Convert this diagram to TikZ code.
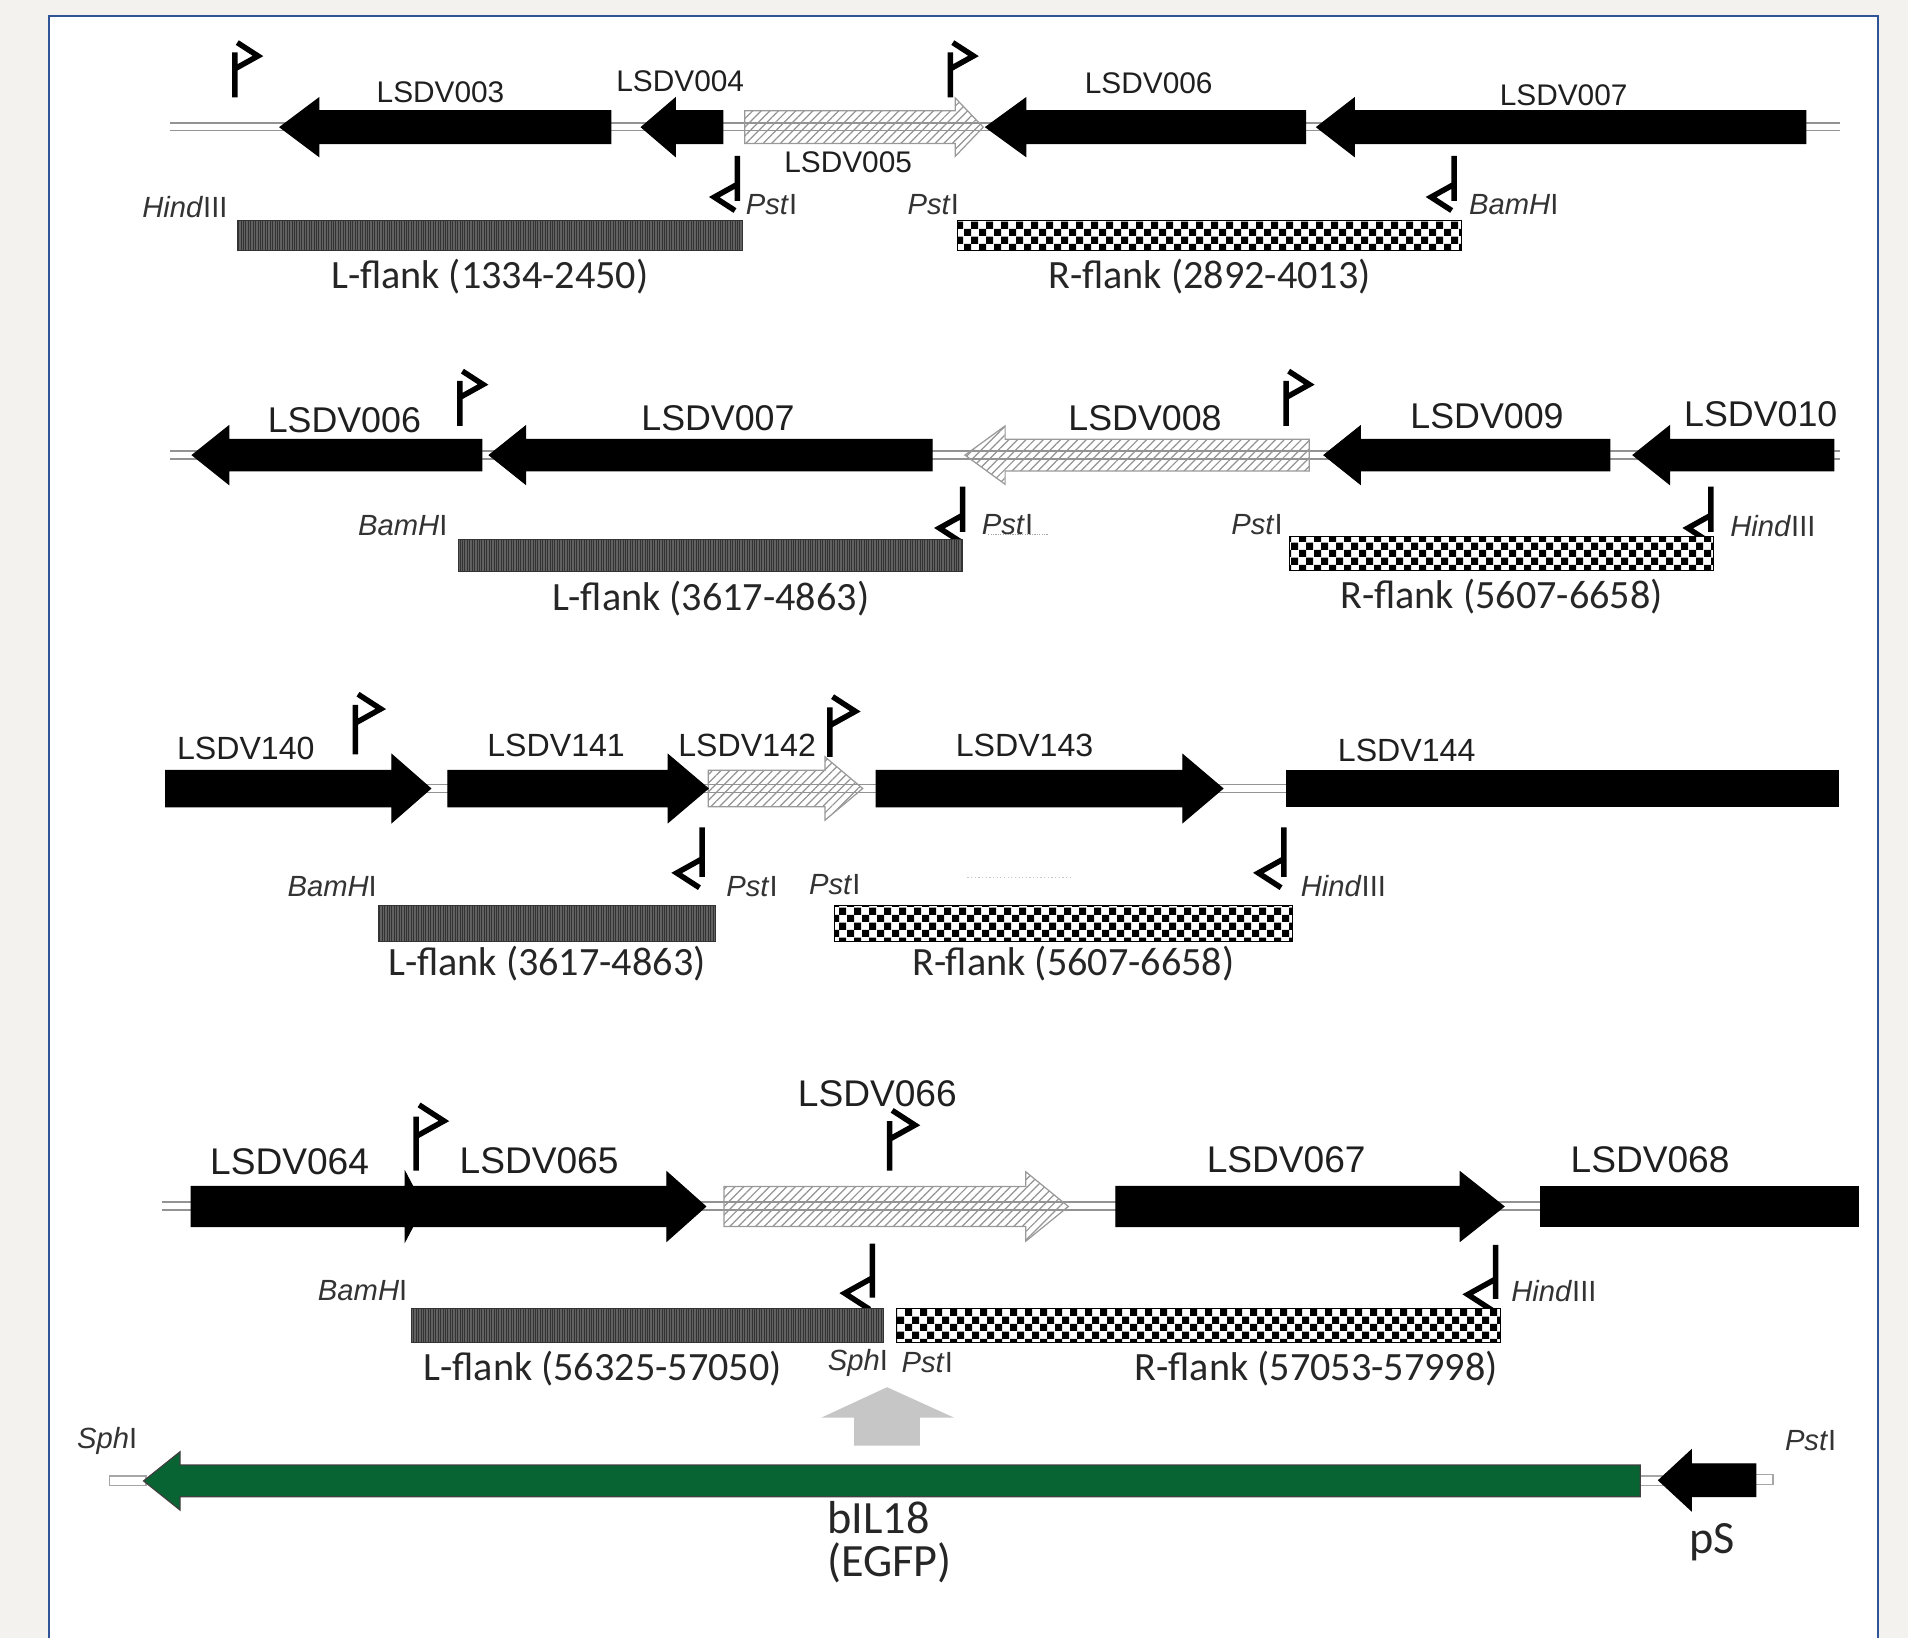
\documentclass[tikz,border=0pt]{standalone}
\usepackage{fontspec}
\setmainfont{Liberation Sans}
\newfontfamily\calib{Carlito}
\usetikzlibrary{positioning,patterns,patterns.meta}

\definecolor{pagebg}{RGB}{243,242,239}
\definecolor{frameblue}{RGB}{47,85,151}
\definecolor{egfp}{RGB}{8,100,50}

% coarse checkerboard for the right flanks
\pgfdeclarepatternformonly{bigcheck}{\pgfqpoint{0pt}{0pt}}{\pgfqpoint{12pt}{12pt}}{\pgfqpoint{12pt}{12pt}}%
{\pgfpathrectangle{\pgfqpoint{0pt}{0pt}}{\pgfqpoint{6pt}{6pt}}%
 \pgfpathrectangle{\pgfqpoint{6pt}{6pt}}{\pgfqpoint{6pt}{6pt}}%
 \pgfusepath{fill}}

% gene arrow: style, body end, head base, tip, centre line
\newcommand{\genebox}[5]{%
  \draw[#1] (#2,#5-\bodyh) -- (#3,#5-\bodyh) -- (#3,#5-\headh) -- (#4,#5)
    -- (#3,#5+\headh) -- (#3,#5+\bodyh) -- (#2,#5+\bodyh) -- cycle;}

\tikzset{
  solidgene/.style={fill=black, draw=black, line width=0.8pt},
  hatchgene/.style={draw=gray!80, line width=1pt,
    pattern={Lines[angle=45,distance=5pt,line width=1pt]}, pattern color=gray!85},
  backbone/.style={draw=gray!85, line width=1.3pt, double=white, double distance=5pt},
  lflank/.style={draw=black!80, line width=0.8pt, preaction={fill=black!62},
    pattern={Lines[angle=90,distance=2pt,line width=0.7pt]}, pattern color=black!80,
    inner sep=0pt, outer sep=0pt},
  rflank/.style={draw=black, line width=1pt, preaction={fill=white},
    pattern=bigcheck, pattern color=black, inner sep=0pt, outer sep=0pt},
  prom/.style={draw=black, line width=4.5pt, line join=miter},
  promup/.pic={\draw[prom] (0,0) -- (0,-37) (2,-45) -- (19,-34) -- (1,-24);},
  promdown/.pic={\draw[prom] (0,0) -- (0,37) (-2,45) -- (-19,34) -- (-1,24);},
  glabel/.style={font=\fontsize{#1}{#1}\selectfont, inner sep=0pt, text=black!88},
  site/.style={font=\fontsize{24}{24}\selectfont, inner sep=0pt, text=black!80},
  flankcap/.style={font=\calib\fontsize{33}{33}\selectfont, inner sep=0pt, text=black!85},
  bigcap/.style={font=\calib\fontsize{38}{38}\selectfont, inner sep=0pt, text=black!85},
  stub/.style={draw=gray!70, fill=white, line width=1pt}
}

\begin{document}
\begin{tikzpicture}[x=1pt, y=-1pt]
\useasboundingbox (0,0) rectangle (1568,1346);
\fill[pagebg] (0,0) rectangle (1568,1346);
\fill[white] (40,13) rectangle (1543,1346);
\draw[frameblue, line width=1.5pt] (40,1346) -- (40,13) -- (1543,13) -- (1543,1346);

% row 1
\def\bodyh{13.5}\def\headh{24}
\draw[backbone] (140,104) -- (1512,104);
\genebox{hatchgene}{612}{785}{808}{104.5}
\genebox{solidgene}{502}{262}{230}{104.5}
\genebox{solidgene}{594}{555}{527}{104.5}
\genebox{solidgene}{1073}{843}{810}{104.5}
\genebox{solidgene}{1484}{1113}{1082}{104.5}
\node[glabel=24.5] (r1g003) at (362,76) {LSDV003};
\node[glabel=24.5] (r1g004) at (559,67) {LSDV004};
\node[glabel=24.5] (r1g005) at (697,133) {LSDV005};
\node[glabel=24.5] (r1g006) at (944,68) {LSDV006};
\node[glabel=24.5] (r1g007) at (1285,78) {LSDV007};
\pic at (193,80) {promup};
\pic at (781,80) {promup};
\pic at (606,128) {promdown};
\pic at (1195,128) {promdown};
\node[site] (r1hind) at (152,170) {\textit{Hind}III};
\node[site] (r1pstl) at (634,168) {\textit{Pst}I};
\node[site] (r1pstr) at (767,168) {\textit{Pst}I};
\node[site] (r1bam) at (1244,168) {\textit{BamH}I};
\node[lflank, minimum width=415pt, minimum height=25pt] (lf1) at (402.5,193.5) {};
\node[rflank, minimum width=414pt, minimum height=25pt] (rf1) at (994,193.5) {};
\node[flankcap, below=7pt of lf1] (lf1cap) {L-flank (1334-2450)};
\node[flankcap, below=7pt of rf1] (rf1cap) {R-flank (2892-4013)};

% row 2
\def\bodyh{13}\def\headh{24}
\draw[backbone] (140,374) -- (1512,374);
\genebox{hatchgene}{1076}{826}{793}{374}
\genebox{solidgene}{396}{188}{158}{374}
\genebox{solidgene}{766}{432}{402}{374}
\genebox{solidgene}{1323}{1118}{1088}{374}
\genebox{solidgene}{1507}{1372}{1342}{374}
\node[glabel=29.4] (r2g006) at (283,345) {LSDV006};
\node[glabel=29.4] (r2g007) at (590,344) {LSDV007};
\node[glabel=29.4] (r2g008) at (941,344) {LSDV008};
\node[glabel=29.4] (r2g009) at (1222,342) {LSDV009};
\node[glabel=29.4] (r2g010) at (1447,340) {LSDV010};
\pic at (378,350) {promup};
\pic at (1057,350) {promup};
\pic at (791,400) {promdown};
\pic at (1406,400) {promdown};
\node[site] (r2bam) at (331,432) {\textit{BamH}I};
\node[site] (r2pstl) at (828,431) {\textit{Pst}I};
\draw[densely dotted, gray!70, line width=1pt] (812,439) -- (862,439);
\node[site] (r2pstr) at (1033,431) {\textit{Pst}I};
\node[site] (r2hind) at (1457,432) {\textit{Hind}III};
\node[lflank, minimum width=414pt, minimum height=27pt] (lf2) at (584,456.5) {};
\node[rflank, minimum width=348pt, minimum height=28pt] (rf2) at (1234,455) {};
\node[flankcap, below=7pt of lf2] (lf2cap) {L-flank (3617-4863)};
\node[flankcap, below=7pt of rf2] (rf2cap) {R-flank (5607-6658)};

% row 3
\def\bodyh{15}\def\headh{28}
\draw[backbone] (136,648) -- (1511,648);
{\def\headh{26}\genebox{hatchgene}{582}{678}{709}{648}}
\genebox{solidgene}{136}{322}{354}{648}
\genebox{solidgene}{368}{549}{582}{648}
\genebox{solidgene}{720}{972}{1005}{648}
\draw[solidgene] (1057,633) rectangle (1511,663);
\node[glabel=26.4] (r3g140) at (202,615) {LSDV140};
\node[glabel=26.4] (r3g141) at (457,613) {LSDV141};
\node[glabel=26.4] (r3g142) at (614,613) {LSDV142};
\node[glabel=26.4] (r3g143) at (842,613) {LSDV143};
\node[glabel=26.4] (r3g144) at (1156,617) {LSDV144};
\pic[scale=1.1] at (292,620) {promup};
\pic[scale=1.1] at (682,622) {promup};
\pic[scale=1.1] at (577,680) {promdown};
\pic[scale=1.1] at (1055,680) {promdown};
\node[site] (r3bam) at (273,729) {\textit{BamH}I};
\node[site] (r3pstl) at (618,729) {\textit{Pst}I};
\node[site] (r3pstr) at (686,727) {\textit{Pst}I};
\draw[dotted, gray!45, line width=1pt] (795,721) -- (880,721);
\node[site] (r3hind) at (1104,728) {\textit{Hind}III};
\node[lflank, minimum width=277pt, minimum height=30pt] (lf3) at (449.5,759) {};
\node[rflank, minimum width=376pt, minimum height=30pt] (rf3) at (874,759) {};
\node[flankcap, below=3pt of lf3] (lf3cap) {L-flank (3617-4863)};
\node[flankcap, below=3pt of rf3, xshift=8pt] (rf3cap) {R-flank (5607-6658)};

% row 4
\def\bodyh{16.5}\def\headh{28.5}
\draw[backbone] (133,991) -- (1527,991);
\genebox{hatchgene}{595}{843}{878}{991.5}
\genebox{solidgene}{157}{333}{348}{991.5}
\genebox{solidgene}{333}{548}{580}{991.5}
\genebox{solidgene}{917}{1200}{1236}{991.5}
\draw[solidgene] (1266,975) rectangle (1527,1008);
\node[glabel=30.5] (r4g064) at (238,955) {LSDV064};
\node[glabel=30.5] (r4g065) at (443,954) {LSDV065};
\node[glabel=30.5] (r4g066) at (721,899) {LSDV066};
\node[glabel=30.5] (r4g067) at (1057,953) {LSDV067};
\node[glabel=30.5] (r4g068) at (1356,953) {LSDV068};
\pic[scale=1.2] at (342,962) {promup};
\pic[scale=1.1] at (731,962) {promup};
\pic[scale=1.2] at (717,1022) {promdown};
\pic[scale=1.2] at (1229,1023) {promdown};
\node[site] (r4bam) at (298,1061) {\textit{BamH}I};
\node[site] (r4hind) at (1277,1061) {\textit{Hind}III};
\node[site] (r4sph) at (705,1120) {\textit{Sph}I};
\node[site] (r4pst) at (762,1120) {\textit{Pst}I};
\node[lflank, minimum width=388pt, minimum height=28pt] (lf4) at (532,1089) {};
\node[rflank, minimum width=496pt, minimum height=28pt] (rf4) at (985,1089) {};
\node[flankcap, below=7pt of lf4.south west, anchor=north west, xshift=10pt] (lf4cap) {L-flank (56325-57050)};
\node[flankcap, below=7pt of rf4.south east, anchor=north east, xshift=-2pt] (rf4cap) {R-flank (57053-57998)};

% insert cassette
\fill[gray!45] (702,1188) -- (702,1165) -- (675,1165) -- (729,1140) -- (784,1165)
  -- (756,1165) -- (756,1188) -- cycle;
\draw[stub] (90,1213) rectangle (120,1221);
\draw[stub] (1346,1213) rectangle (1366,1221);
\draw[stub] (1441,1212) rectangle (1457,1220);
\def\bodyh{13}\def\headh{24}
\genebox{fill=egfp, draw=black!75, line width=1pt}{1348}{148}{118}{1217}
\def\bodyh{13.5}\def\headh{25}
\genebox{solidgene}{1443}{1390}{1363}{1216.5}
\node[site] (sphcas) at (88,1184) {\textit{Sph}I};
\node[site] (pstcas) at (1488,1184) {\textit{Pst}I};
\node[bigcap] (il18) at (722,1247) {bIL18};
\node[bigcap, below=7pt of il18, xshift=9pt] (egfp) {(EGFP)};
\node[bigcap] (ps) at (1407,1267) {pS};
\end{tikzpicture}
\end{document}
